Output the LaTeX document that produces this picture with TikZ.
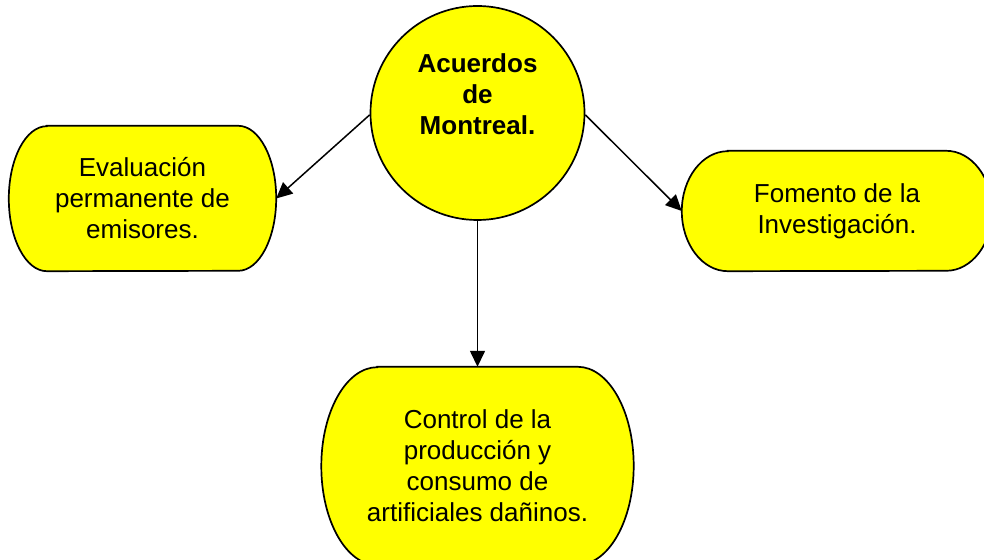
\documentclass[tikz,border=0pt]{standalone}
\usepackage{fontspec}
\setmainfont{Liberation Sans}
\usetikzlibrary{arrows.meta,backgrounds}
\definecolor{boxyellow}{HTML}{FFFF00}
\tikzset{
  x=1pt,y=1pt,
  txt/.style={inner sep=0pt,align=center,font=\fontsize{26}{31}\selectfont},
  boxarea/.style={txt,rectangle},
  shapefill/.style={fill=boxyellow,draw=black,line width=1.7pt},
  conn/.style={draw=black,line width=1.5pt,-{Triangle[length=16pt,width=15pt]}},
}
\newcommand{\capsuleshape}[3]{%
  \path[shapefill] ([xshift=#2]#1.north west) -- ([xshift=-#2]#1.north east)
    arc[start angle=90,end angle=-90,x radius=#2,y radius=#3]
    -- ([xshift=#2]#1.south west)
    arc[start angle=270,end angle=90,x radius=#2,y radius=#3] -- cycle;}
\begin{document}
\begin{tikzpicture}
\clip (0,0) rectangle (984,559);
\node[circle,minimum size=214pt,inner sep=0pt,shapefill] (C) at (477.5,446) {};
\node[txt,font=\fontsize{26}{31}\selectfont\bfseries] (Ct) at (477.5,465) {Acuerdos\\de\\Montreal.};
\node[boxarea,minimum width=267pt,minimum height=145pt] (L) at (142.5,360.5) {Evaluación\\permanente de\\emisores.};
\node[boxarea,minimum width=310pt,minimum height=120pt] (R) at (837,348) {Fomento de la\\Investigación.};
\node[boxarea,minimum width=312pt,minimum height=198pt] (B) at (477.5,93) {Control de la\\producción y\\consumo de\\artificiales dañinos.};
\begin{scope}[on background layer]
  \capsuleshape{L}{38pt}{72.5pt}
  \capsuleshape{R}{46pt}{60pt}
  \capsuleshape{B}{56pt}{99pt}
\end{scope}
\draw[conn] (C.181) -- (L.east);
\draw[conn] (C.-1) -- (R.west);
\draw[conn] (C.south) -- (B.north);
\end{tikzpicture}
\end{document}
